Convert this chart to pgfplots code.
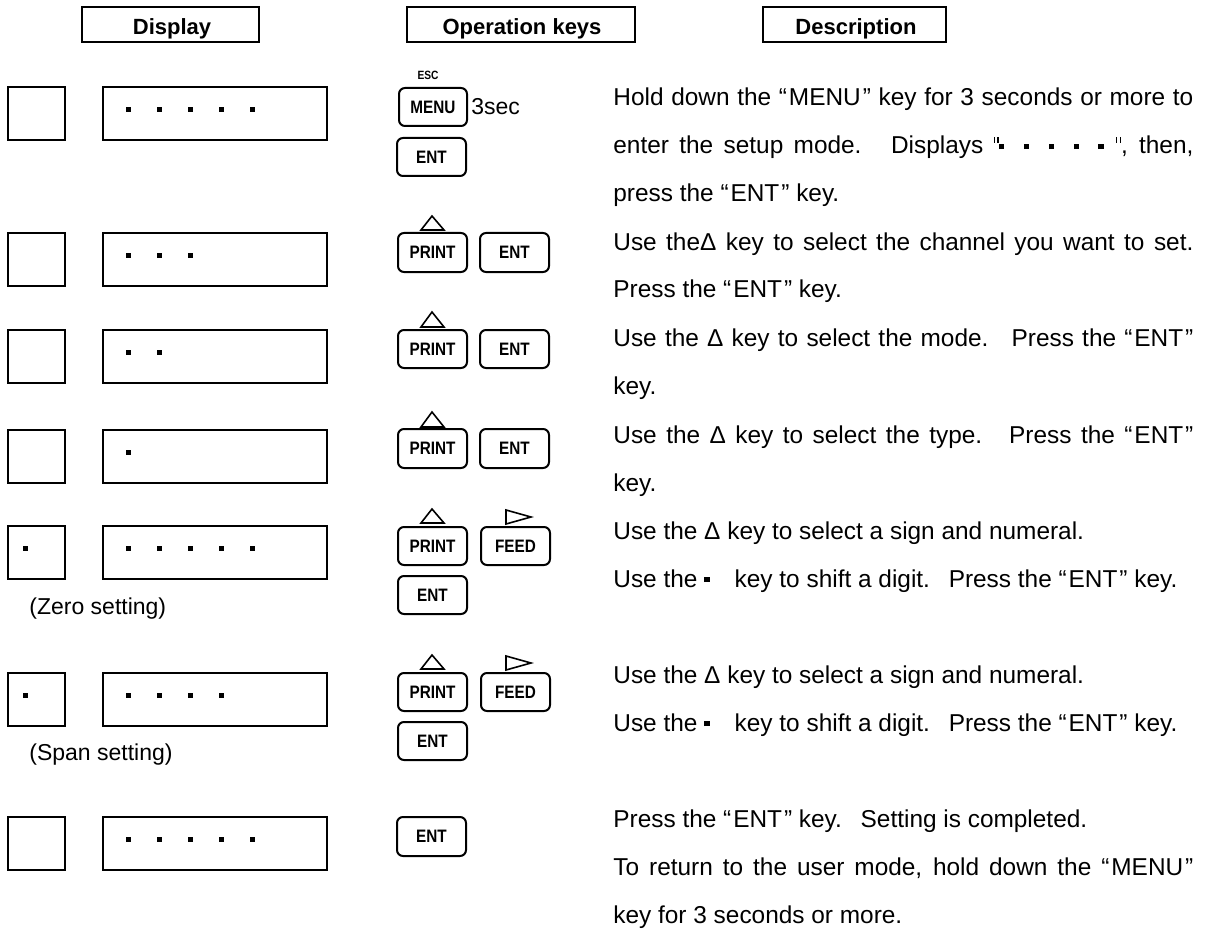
\documentclass[border=0pt]{standalone}
\usepackage{fontspec}
\setmainfont{Liberation Sans}
\newfontfamily\keyfont[FakeStretch=0.85]{Liberation Sans}
\usepackage{pgfplots}
\pgfplotsset{compat=1.18}

\newcommand\q[1]{“\hspace{0.08em}#1\hspace{0.08em}”}
\newcommand\sqd{\rule[0.2em]{0.22em}{0.22em}}
\newcommand\sq{\rule[0.47em]{0.06em}{0.24em}\hspace{0.09em}\rule[0.47em]{0.06em}{0.24em}}
\newcommand\dtext{\fontsize{12.2}{14}\selectfont}
\newcommand\JL[2]{\node[anchor=base west,inner sep=0pt,font=\dtext] at (613,#1) {\makebox[290pt][s]{#2}};}
\newcommand\NL[2]{\node[anchor=base west,inner sep=0pt,font=\dtext] at (613,#1) {#2};}
\newcommand\key[5]{\draw[line width=1pt,rounded corners=3pt] (#1,#2) rectangle (#3,#4);
  \node[font=\keyfont\bfseries\fontsize{9}{10}\selectfont,inner sep=0pt] at ({(#1+#3)/2},{(#2+#4)/2}) {#5};}
\newcommand\dt[2]{\fill ({#1-2.5},{#2-2.5}) rectangle ({#1+2.5},{#2+2.5});}
\newcommand\boxes[1]{\draw[line width=1pt] (8,#1) rectangle (65,{#1+53});
  \draw[line width=1pt] (103,#1) rectangle (327,{#1+53});}
\newcommand\utri[2]{\draw[line width=0.8pt] (421,#2) -- (432,#1) -- (444,#2) -- cycle;}
\newcommand\rtri[2]{\draw[line width=0.8pt] (506,#1) -- (531,{(#1+#2)/2}) -- (506,#2) -- cycle;}

\begin{document}
\begin{tikzpicture}
\begin{axis}[scale only axis, width=603pt, height=465.5pt,
  xmin=0, xmax=1206, ymin=0, ymax=931, y dir=reverse,
  hide axis, clip=false]
% headers
\draw[line width=1pt] (82,7) rectangle (259,42);
\draw[line width=1pt] (407,7) rectangle (635,42);
\draw[line width=1pt] (763,7) rectangle (946,42);
\node[anchor=base, inner sep=0pt, font=\fontsize{11}{13}\selectfont\bfseries] at (172,35) {Display};
\node[anchor=base, inner sep=0pt, font=\fontsize{11}{13}\selectfont\bfseries] at (522,35) {Operation keys};
\node[anchor=base, inner sep=0pt, font=\fontsize{11}{13}\selectfont\bfseries] at (856,35) {Description};
% row 1
\boxes{87}
\dt{128}{109.5}\dt{159}{109.5}\dt{190}{109.5}\dt{221}{109.5}\dt{252}{109.5}
\node[font=\keyfont\bfseries\fontsize{6}{7}\selectfont, inner sep=0pt] at (428,75) {ESC};
\key{399}{88}{467}{126}{MENU}
\node[anchor=west, inner sep=0pt, font=\fontsize{11.5}{13}\selectfont] at (471,107) {3sec};
\key{397}{138}{466}{176}{ENT}
% row 2
\boxes{233}
\dt{128}{255.5}\dt{159}{255.5}\dt{190}{255.5}
\utri{216}{230}
\key{398}{233}{467}{272}{PRINT}
\key{480}{233}{549}{272}{ENT}
% row 3
\boxes{330}
\dt{128}{352.5}\dt{159}{352.5}
\utri{312}{327}
\key{398}{330}{467}{368}{PRINT}
\key{480}{330}{549}{368}{ENT}
% row 4
\boxes{430}
\dt{128}{452.5}
\utri{412}{427}
\key{398}{429}{467}{468}{PRINT}
\key{480}{429}{549}{468}{ENT}
% row 5
\boxes{526}
\dt{25}{548.5}
\dt{128}{548.5}\dt{159}{548.5}\dt{190}{548.5}\dt{221}{548.5}\dt{252}{548.5}
\utri{509}{523}
\rtri{510}{524}
\key{398}{527}{467}{565}{PRINT}
\key{481}{527}{550}{565}{FEED}
\key{398}{576}{467}{614}{ENT}
\node[anchor=west, inner sep=0pt, font=\fontsize{11.5}{13}\selectfont] at (29,609) {(Zero setting)};
% row 6
\boxes{673}
\dt{25}{695.5}
\dt{128}{695.5}\dt{159}{695.5}\dt{190}{695.5}\dt{221}{695.5}
\utri{655}{669}
\rtri{656}{670}
\key{398}{673}{467}{711}{PRINT}
\key{481}{673}{550}{711}{FEED}
\key{398}{722}{467}{760}{ENT}
\node[anchor=west, inner sep=0pt, font=\fontsize{11.5}{13}\selectfont] at (29,755) {(Span setting)};
% row 7
\boxes{817}
\dt{128}{839.5}\dt{159}{839.5}\dt{190}{839.5}\dt{221}{839.5}\dt{252}{839.5}
\key{397}{817}{466}{856}{ENT}
% description
\JL{106}{Hold down the \q{MENU} key for 3 seconds or more to}
\JL{154}{enter the setup mode.\hspace{0.4em} Displays \sq\sqd\hspace{0.8em}\sqd\hspace{0.8em}\sqd\hspace{0.8em}\sqd\hspace{0.8em}\sqd\hspace{0.5em}\sq, then,}
\NL{202}{press the \q{ENT} key.}
\JL{250}{Use theΔ key to select the channel you want to set.}
\NL{298}{Press the \q{ENT} key.}
\JL{346}{Use the Δ key to select the mode.\hspace{0.4em} Press the \q{ENT}}
\NL{394}{key.}
\JL{443}{Use the Δ key to select the type.\hspace{0.4em} Press the \q{ENT}}
\NL{491}{key.}
\NL{539}{Use the Δ key to select a sign and numeral.}
\NL{587}{Use the \sqd\hspace{0.75em} key to shift a digit.\hspace{0.4em} Press the \q{ENT} key.}
\NL{683}{Use the Δ key to select a sign and numeral.}
\NL{731}{Use the \sqd\hspace{0.75em} key to shift a digit.\hspace{0.4em} Press the \q{ENT} key.}
\NL{827}{Press the \q{ENT} key.\hspace{0.4em} Setting is completed.}
\JL{875}{To return to the user mode, hold down the \q{MENU}}
\NL{923}{key for 3 seconds or more.}
\coordinate (BL) at (0,931);
\coordinate (TR) at (1206,0);
\end{axis}
\pgfresetboundingbox
\useasboundingbox (BL) rectangle (TR);
\end{tikzpicture}
\end{document}
